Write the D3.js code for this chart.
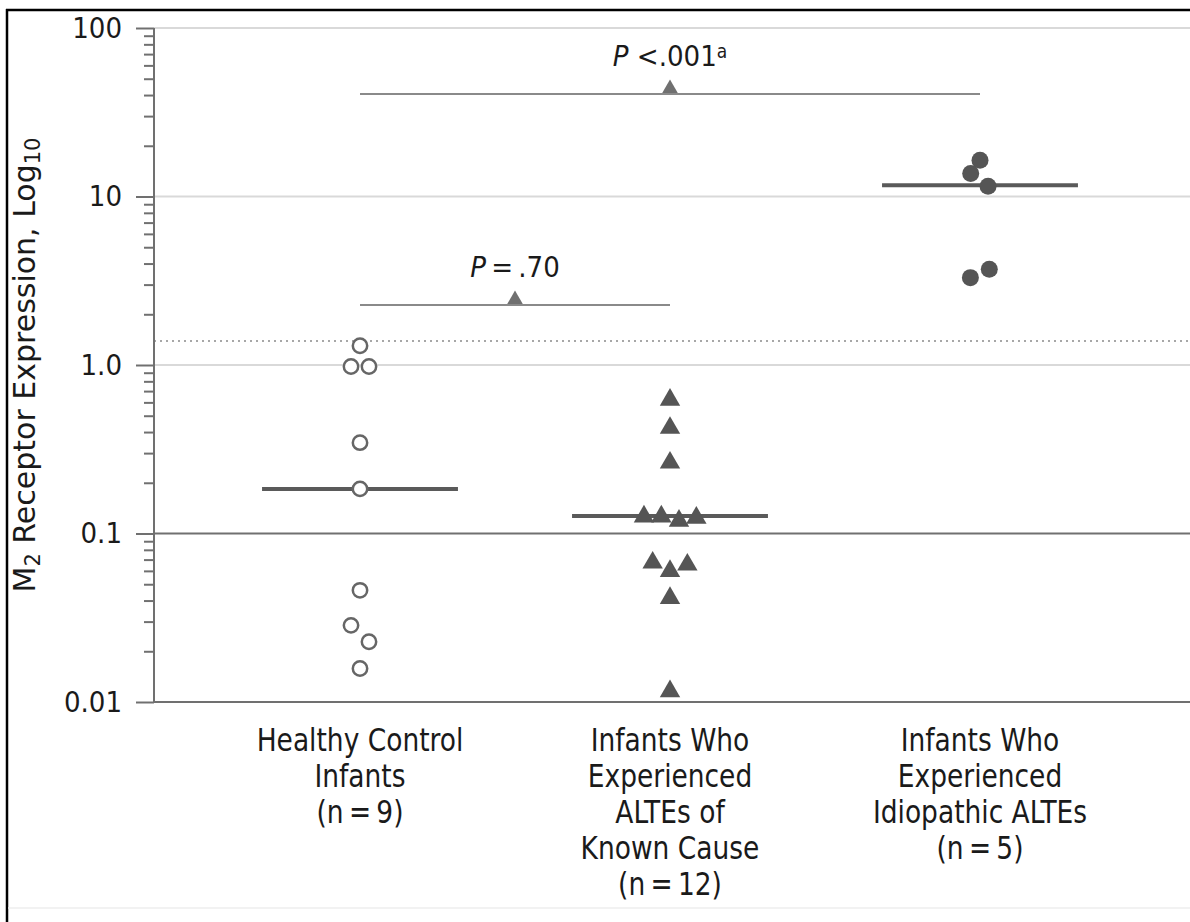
<!DOCTYPE html>
<html><head><meta charset="utf-8">
<script src="https://cdn.jsdelivr.net/npm/d3@7"></script>
<style>body{margin:0;background:#fff} svg{display:block}</style>
</head><body>
<svg id="chart" width="1190" height="922"></svg>
<script>
// ---------- data ----------
const categories = ["Healthy Control Infants", "Infants Who Experienced ALTEs of Known Cause", "Infants Who Experienced Idiopathic ALTEs"];
const categoryLines = [
  ["Healthy Control", "Infants", "(n\u2009=\u20099)"],
  ["Infants Who", "Experienced", "ALTEs of", "Known Cause", "(n\u2009=\u200912)"],
  ["Infants Who", "Experienced", "Idiopathic ALTEs", "(n\u2009=\u20095)"]
];
const controlValues   = [1.30, 0.98, 0.98, 0.346, 0.184, 0.046, 0.0285, 0.0228, 0.0158];
const controlJitter   = [0, -0.029, 0.029, 0, 0, 0, -0.029, 0.029, 0];
const knownValues     = [0.621, 0.423, 0.263, 0.126, 0.126, 0.119, 0.124, 0.0671, 0.0599, 0.0653, 0.0414, 0.01157];
const knownJitter     = [0, 0, 0, -0.084, -0.028, 0.029, 0.085, -0.056, 0, 0.056, 0, 0];
const idioValues      = [16.4, 13.7, 11.5, 3.70, 3.30];
const idioJitter      = [0, -0.03, 0.026, 0.03, -0.031];
const medians         = [0.184, 0.127, 11.65];
const yTicks          = [0.01, 0.1, 1, 10, 100];
const yTickLabels     = ["0.01", "0.1", "1.0", "10", "100"];
const lightGridValues = [1, 10, 100];
const darkGridValues  = [0.1];
const thresholdValue  = 1.39;
const comparisons = [
  {from: 0, to: 2, value: 40.6, label: "<.001", sup: "a", sep: " "},
  {from: 0, to: 1, value: 2.27, label: ".70", sup: "", sep: "\u2009=\u2009"}
];

// ---------- layout ----------
const svg = d3.select("#chart");
const W = 1190, H = 922;
const axisX = 154, plotTop = 28, plotBottom = 702;
const y = d3.scaleLog().domain([0.01, 100]).range([plotBottom, plotTop]);
const x = d3.scaleLinear().domain([0, 2]).range([360, 980]);
const medianHalf = 0.316;
const condensed = "'DejaVu Sans Condensed', 'DejaVu Sans', sans-serif";
const regular = "'DejaVu Sans', sans-serif";

// frame
svg.append("line").attr("x1", 7).attr("x2", 7).attr("y1", 9).attr("y2", H).attr("stroke", "#000").attr("stroke-width", 2.5);
svg.append("line").attr("x1", 6).attr("x2", W).attr("y1", 10).attr("y2", 10).attr("stroke", "#000").attr("stroke-width", 2.5);
svg.append("line").attr("x1", 8).attr("x2", W).attr("y1", 908).attr("y2", 908).attr("stroke", "#eeeeee").attr("stroke-width", 1.5);

// grid lines
svg.append("g").selectAll("line").data(lightGridValues).join("line")
  .attr("x1", axisX).attr("x2", W).attr("y1", d => y(d)).attr("y2", d => y(d))
  .attr("stroke", "#d9d9d9").attr("stroke-width", 2);
svg.append("g").selectAll("line").data(darkGridValues).join("line")
  .attr("x1", axisX).attr("x2", W).attr("y1", d => y(d)).attr("y2", d => y(d))
  .attr("stroke", "#707070").attr("stroke-width", 2);
svg.append("line").attr("x1", axisX).attr("x2", W).attr("y1", y(thresholdValue)).attr("y2", y(thresholdValue))
  .attr("stroke", "#8a8a8a").attr("stroke-width", 1.5).attr("stroke-dasharray", "2,4");
svg.append("line").attr("x1", axisX).attr("x2", W).attr("y1", y(0.01)).attr("y2", y(0.01))
  .attr("stroke", "#707070").attr("stroke-width", 2);

// y axis: minor ticks
const minorTicks = [];
[0.01, 0.1, 1, 10].forEach(dec => { for (let k = 2; k <= 9; k++) minorTicks.push(dec * k); });
const minorAxis = svg.append("g").attr("transform", `translate(${axisX},0)`)
  .call(d3.axisLeft(y).tickValues(minorTicks).tickSize(10).tickFormat(""));
minorAxis.select(".domain").remove();
minorAxis.selectAll(".tick line").attr("stroke", "#707070").attr("stroke-width", 2);

const majorAxis = svg.append("g").attr("transform", `translate(${axisX},0)`)
  .call(d3.axisLeft(y).tickValues(yTicks).tickSize(18).tickPadding(14)
    .tickFormat((d, i) => yTickLabels[i]));
majorAxis.select(".domain").attr("stroke", "#707070").attr("stroke-width", 2).attr("d", `M0,${plotTop}V${plotBottom}`);
majorAxis.selectAll(".tick line").attr("stroke", "#707070").attr("stroke-width", 2);
majorAxis.selectAll(".tick text").attr("fill", "#1a1a1a")
  .style("font-family", condensed).style("font-size", "29px");

// y title
const yt = svg.append("text").attr("transform", `translate(35,${(plotTop + plotBottom) / 2}) rotate(-90)`)
  .attr("text-anchor", "middle").attr("fill", "#1a1a1a")
  .style("font-family", regular).style("font-size", "30px");
yt.append("tspan").text("M");
yt.append("tspan").attr("baseline-shift", "-25%").style("font-size", "21px").text("2");
yt.append("tspan").text(" Receptor Expression, Log");
yt.append("tspan").attr("baseline-shift", "-25%").style("font-size", "21px").text("10");

// median lines
svg.append("g").selectAll("line").data(medians).join("line")
  .attr("x1", (d, i) => x(i - medianHalf)).attr("x2", (d, i) => x(i + medianHalf))
  .attr("y1", d => y(d)).attr("y2", d => y(d))
  .attr("stroke", "#5a5a5a").attr("stroke-width", 4);

// comparison brackets
const cg = svg.append("g");
comparisons.forEach(c => {
  const yy = y(c.value);
  cg.append("line").attr("x1", x(c.from)).attr("x2", x(c.to)).attr("y1", yy).attr("y2", yy)
    .attr("stroke", "#8a8a8a").attr("stroke-width", 2);
  const mid = (x(c.from) + x(c.to)) / 2;
  const tri = 105, side = Math.sqrt(tri / (Math.sqrt(3) / 4)), h = side * Math.sqrt(3) / 2;
  cg.append("path").attr("d", d3.symbol(d3.symbolTriangle, tri)())
    .attr("transform", `translate(${mid},${yy - h / 3 - 1})`).attr("fill", "#707070");
  const t = cg.append("text").attr("x", mid).attr("y", yy - 28).attr("text-anchor", "middle")
    .attr("fill", "#1a1a1a").style("font-family", condensed).style("font-size", "29px");
  t.append("tspan").style("font-style", "italic").text("P");
  t.append("tspan").text(c.sep + c.label);
  if (c.sup) t.append("tspan").attr("baseline-shift", "40%").style("font-size", "19px").text(c.sup);
});

// points
const pg = svg.append("g");
pg.selectAll("circle.ctrl").data(controlValues).join("circle").attr("class", "ctrl")
  .attr("cx", (d, i) => x(0 + controlJitter[i])).attr("cy", d => y(d)).attr("r", 7.2)
  .attr("fill", "#fff").attr("stroke", "#666").attr("stroke-width", 2.5);
pg.selectAll("path.known").data(knownValues).join("path").attr("class", "known")
  .attr("d", d3.symbol(d3.symbolTriangle, 180)())
  .attr("transform", (d, i) => `translate(${x(1 + knownJitter[i])},${y(d)})`)
  .attr("fill", "#555");
pg.selectAll("circle.idio").data(idioValues).join("circle").attr("class", "idio")
  .attr("cx", (d, i) => x(2 + idioJitter[i])).attr("cy", d => y(d)).attr("r", 8.5)
  .attr("fill", "#555");

// category labels
const lg = svg.append("g");
categoryLines.forEach((lines, i) => {
  const t = lg.append("text").attr("text-anchor", "middle").attr("fill", "#1a1a1a")
    .attr("transform", `translate(${x(i)},751) scale(0.92,1)`)
    .style("font-family", condensed).style("font-size", "32px");
  lines.forEach((s, j) => t.append("tspan").attr("x", 0).attr("y", j * 36).text(s));
});
</script>
</body></html>
